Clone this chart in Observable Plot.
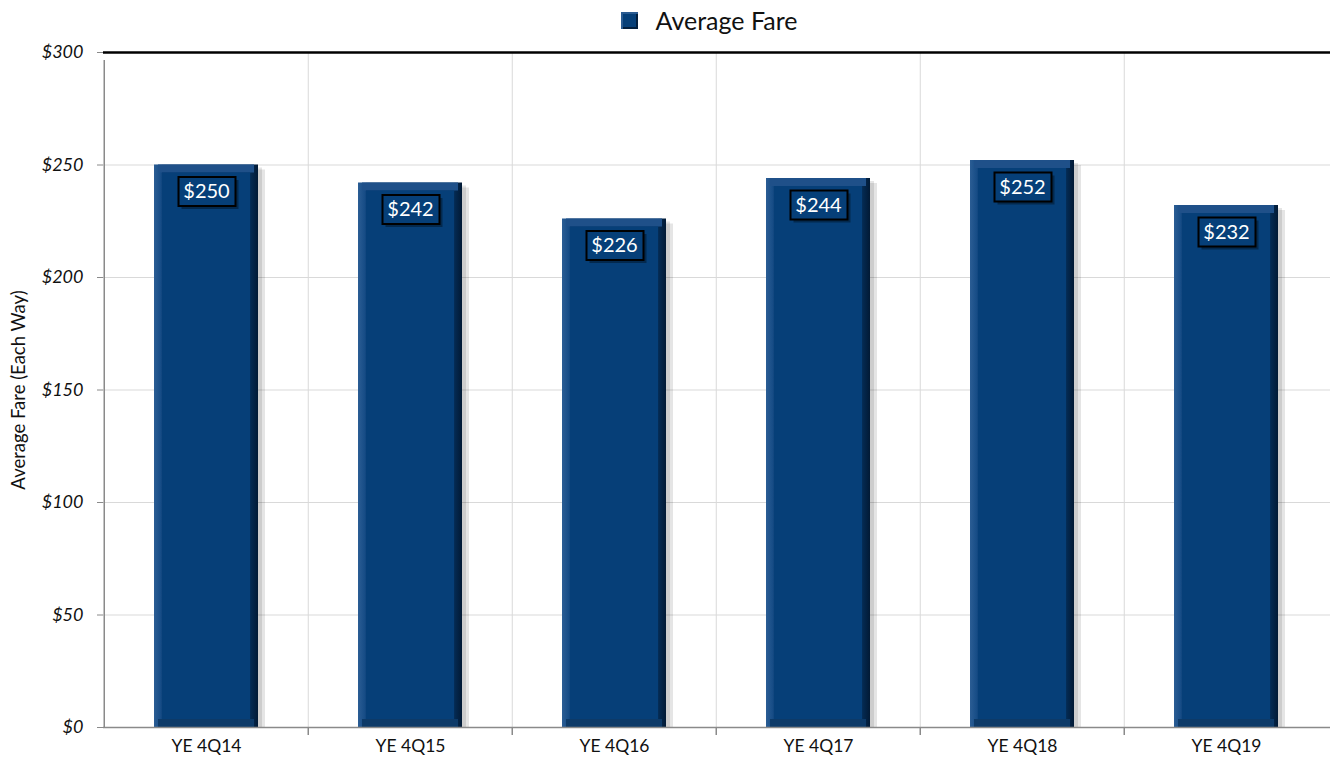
<!DOCTYPE html>
<html>
<head>
<meta charset="utf-8">
<script src="https://cdn.jsdelivr.net/npm/d3@7"></script>
<script src="https://cdn.jsdelivr.net/npm/@observablehq/plot@0.6"></script>
<style>
  html, body { margin: 0; padding: 0; background: #fff; }
  body { width: 1330px; height: 762px; overflow: hidden; font-family: Lato, "Open Sans", sans-serif; }
  #legend { height: 40px; display: flex; align-items: center; justify-content: center; padding-left: 88px; box-sizing: border-box; }
  #legend .sw { width: 17px; height: 17px; background: #063f78; box-shadow: inset 2px 2px 0 #2a5b91, inset -2px -2px 0 #021e3d; margin-right: 18px; }
  #legend .lbl { font-size: 25px; color: #111; }
  #chart svg { display: block; font-family: Lato, "Open Sans", sans-serif; }
</style>
</head>
<body>
<div id="legend"><div class="sw"></div><div class="lbl">Average Fare</div></div>
<div id="chart"></div>
<script>
const categories = ["YE 4Q14", "YE 4Q15", "YE 4Q16", "YE 4Q17", "YE 4Q18", "YE 4Q19"];
const fares = [250, 242, 226, 244, 252, 232];
const yTicks = [0, 50, 100, 150, 200, 250, 300];
const seriesName = "Average Fare";
const yLabel = "Average Fare (Each Way)";

const data = categories.map((c, i) => ({category: c, value: fares[i]}));

const W = 1330, H = 722, mL = 103, mR = 0, mT = 12, mB = 35;
const step = (W - mL - mR) / categories.length;
const half = -step / 2;
const fmt = d => "$" + d;

const boxSymbol = { draw(ctx) { ctx.rect(-28, -14, 57, 29); } };

const plot = Plot.plot({
  width: W, height: H,
  marginLeft: mL, marginRight: mR, marginTop: mT, marginBottom: mB,
  style: {fontFamily: "Lato, 'Open Sans', sans-serif", background: "#fff"},
  x: {domain: categories, paddingInner: 0.49, paddingOuter: 0.245, label: null},
  y: {domain: [0, 300], label: null},
  marks: [
    Plot.gridY(yTicks, {stroke: "#d9d9d9", strokeOpacity: 1}),
    Plot.ruleX(categories.slice(1), {x: d => d, dx: half, y1: 0, y2: 300, stroke: "#d9d9d9"}),
    // bar shadow
    Plot.barY(data, {x: "category", y: "value", dx: 7, insetTop: 5, fill: "#000", fillOpacity: 0.10}),
    Plot.barY(data, {x: "category", y: "value", dx: 4, insetTop: 3, fill: "#000", fillOpacity: 0.10}),
    // bevel frame
    Plot.barY(data, {x: "category", y: "value", fill: "url(#bevelH)"}),
    Plot.barY(data, {x: "category", y1: "value", y2: "value", insetBottom: -8, insetLeft: 4, insetRight: 4, fill: "#1f5089"}),
    Plot.barY(data, {x: "category", y1: 0, y2: 0, insetTop: -8, insetLeft: 4, insetRight: 4, fill: "#0d3a68"}),
    Plot.barY(data, {x: "category", y: "value", insetTop: 8, insetBottom: 8, insetLeft: 8, insetRight: 8, fill: "#063f78"}),
    // axes lines
    Plot.ruleY([0], {stroke: "#8a8a8a", strokeWidth: 1.5}),
    Plot.ruleX([categories[0]], {x: d => d, dx: half, y1: 0, y2: 300, insetBottom: -8, stroke: "#8a8a8a", strokeWidth: 1.5}),
    Plot.ruleX(categories.slice(1), {x: d => d, dx: half, y1: 0, y2: 0, insetBottom: -8, stroke: "#8a8a8a", strokeWidth: 1.5}),
    Plot.ruleY([300], {stroke: "#000", strokeWidth: 2.5}),
    Plot.axisY(yTicks, {tickSize: 6, tickPadding: 14, tickFormat: fmt, fontSize: 18, fontStyle: "italic", stroke: "#8a8a8a", fill: "#111", label: null}),
    Plot.text([yLabel], {frameAnchor: "left", textAnchor: "middle", dx: -84, rotate: -90, fontSize: 18.5, fill: "#111"}),
    Plot.axisX({tickSize: 0, tickPadding: 12, fontSize: 17.5, fill: "#111", label: null}),
    // value label boxes
    Plot.dot(data, {x: "category", y: "value", dy: 29, dx: 3, symbol: boxSymbol, fill: "#000", fillOpacity: 0.35, stroke: "none"}),
    Plot.dot(data, {x: "category", y: "value", dy: 26, symbol: boxSymbol, fill: "#063f78", stroke: "#000", strokeWidth: 2}),
    Plot.text(data, {x: "category", y: "value", dy: 27, text: d => fmt(d.value), fill: "#fff", fontSize: 20})
  ]
});

const defs = d3.create("svg:defs");
const g = defs.append("linearGradient").attr("id", "bevelH").attr("x1", 0).attr("x2", 1).attr("y1", 0).attr("y2", 0);
g.append("stop").attr("offset", "0%").attr("stop-color", "#2b5d94");
g.append("stop").attr("offset", "7%").attr("stop-color", "#154b85");
g.append("stop").attr("offset", "8%").attr("stop-color", "#0a3b70");
g.append("stop").attr("offset", "92%").attr("stop-color", "#053565");
g.append("stop").attr("offset", "93%").attr("stop-color", "#042a52");
g.append("stop").attr("offset", "100%").attr("stop-color", "#021a35");
plot.insertBefore(defs.node(), plot.firstChild);

document.getElementById("chart").appendChild(plot);
</script>
</body>
</html>
